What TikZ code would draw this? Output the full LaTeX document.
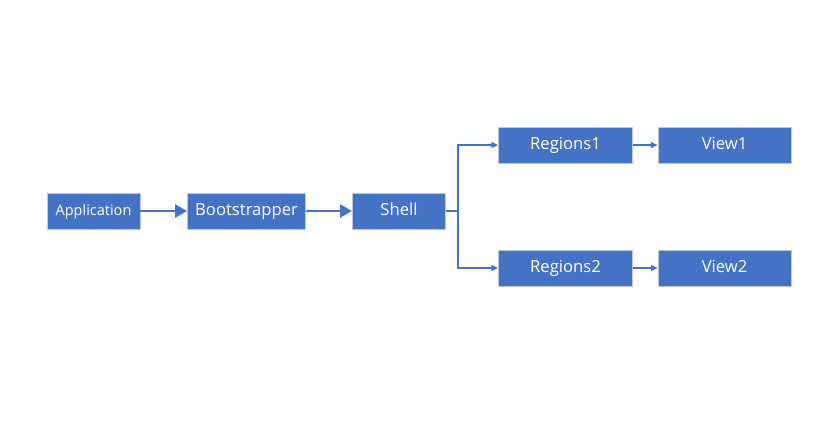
\documentclass[tikz,border=0pt]{standalone}
\usepackage{fontspec}
\setmainfont{Open Sans}
\usetikzlibrary{arrows.meta, positioning}

\definecolor{boxblue}{HTML}{4472C4}
\definecolor{boxline}{HTML}{BFC7D5}

\begin{document}
\begin{tikzpicture}[
    node distance=1.4cm,
    box/.style={rectangle, draw=boxline, line width=0.8pt, fill=boxblue, text=white, inner sep=0pt, minimum height=1.08cm, text height=1.75ex, text depth=0.45ex, font=\fontsize{14.2}{16}\selectfont},
    bigarrow/.style={-{Triangle[length=0.36cm, width=0.38cm]}, line width=2.5pt, draw=boxblue},
    arrow/.style={-{Triangle[length=0.2cm, width=0.18cm]}, line width=0.9pt, draw=boxblue}
]
\useasboundingbox (0,0) rectangle (25.02,12.81);

% Main chain
\node[box, minimum width=2.79cm, font=\fontsize{12.4}{14}\selectfont] (app) at (2.805,6.48) {Application};
\node[box, minimum width=3.54cm, right=of app] (boot) {Bootstrapper};
\node[box, minimum width=2.79cm, right=1.38cm of boot] (shell) {Shell};

% Regions and views
\node[box, minimum width=4.02cm, right=1.56cm of shell, yshift=1.98cm] (reg1) {Regions1};
\node[box, minimum width=4.02cm, right=1.56cm of shell, yshift=-1.71cm] (reg2) {Regions2};
\node[box, minimum width=3.99cm, right=0.74cm of reg1] (view1) {View1};
\node[box, minimum width=3.99cm, right=0.74cm of reg2] (view2) {View2};

\coordinate (split) at ([xshift=0.36cm]shell.east);

% Connections
\draw[bigarrow] (app.east) -- (boot.west);
\draw[bigarrow] (boot.east) -- (shell.west);
\draw[arrow] (shell.east) -- (split) |- (reg1.west);
\draw[arrow] (split) |- (reg2.west);
\draw[arrow] (reg1.east) -- (view1.west);
\draw[arrow] (reg2.east) -- (view2.west);

\end{tikzpicture}
\end{document}
